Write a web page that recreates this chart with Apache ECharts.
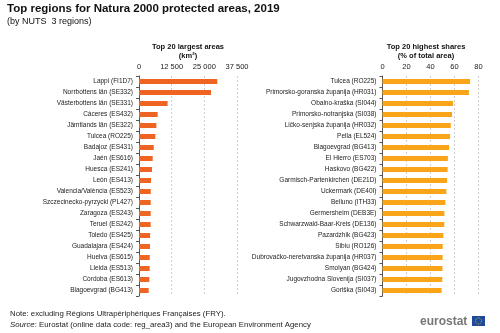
<!DOCTYPE html>
<html>
<head>
<meta charset="utf-8">
<script src="https://cdn.jsdelivr.net/npm/echarts@6/dist/echarts.min.js"></script>
<style>
  html, body { margin: 0; padding: 0; background: #fff; }
  #chart { width: 500px; height: 333px; }
</style>
</head>
<body>
<div id="chart"></div>
<script>
// Top 20 NUTS 3 regions by Natura 2000 area (km²)
const areaRegions = [
  'Lappi (FI1D7)', 'Norrbottens län (SE332)', 'Västerbottens län (SE331)', 'Cáceres (ES432)',
  'Jämtlands län (SE322)', 'Tulcea (RO225)', 'Badajoz (ES431)', 'Jaén (ES616)',
  'Huesca (ES241)', 'León (ES413)', 'Valencia/València (ES523)', 'Szczecinecko-pyrzycki (PL427)',
  'Zaragoza (ES243)', 'Teruel (ES242)', 'Toledo (ES425)', 'Guadalajara (ES424)',
  'Huelva (ES615)', 'Lleida (ES513)', 'Córdoba (ES613)', 'Blagoevgrad (BG413)'
];
const areaValues = [
  29950, 27550, 10950, 7150, 6650, 6250, 5650, 5250,
  4980, 4600, 4500, 4480, 4470, 4460, 4250, 4220,
  4100, 4080, 3950, 3700
];
const areaTicks = ['0', '12 500', '25 000', '37 500'];

// Top 20 NUTS 3 regions by Natura 2000 share of total area (%)
const shareRegions = [
  'Tulcea (RO225)', 'Primorsko-goranska županija (HR031)', 'Obalno-kraška (SI044)', 'Primorsko-notranjska (SI038)',
  'Ličko-senjska županija (HR032)', 'Pella (EL524)', 'Blagoevgrad (BG413)', 'El Hierro (ES703)',
  'Haskovo (BG422)', 'Garmisch-Partenkirchen (DE21D)', 'Uckermark (DE40I)', 'Belluno (ITH33)',
  'Germersheim (DEB3E)', 'Schwarzwald-Baar-Kreis (DE136)', 'Pazardzhik (BG423)', 'Sibiu (RO126)',
  'Dubrovačko-neretvanska županija (HR037)', 'Smolyan (BG424)', 'Jugovzhodna Slovenija (SI037)', 'Goriška (SI043)'
];
const shareValues = [
  73.0, 72.0, 58.8, 58.0, 56.9, 56.3, 55.5, 54.5,
  54.3, 53.8, 53.2, 52.4, 51.6, 51.5, 50.7, 50.2,
  50.1, 50.0, 49.8, 49.3
];
const shareTicks = ['0', '20', '40', '60', '80'];

const FONT = '"Liberation Sans", Arial, sans-serif';
const TEXT = '#222';

const chart = echarts.init(document.getElementById('chart'), null, { renderer: 'canvas' });

function valueAxis(gridIndex, max, interval, ticks) {
  return {
    type: 'value', gridIndex, position: 'top', min: 0, max, interval,
    axisLine: { show: false }, axisTick: { show: false },
    axisLabel: {
      fontFamily: FONT, fontSize: 7.5, color: TEXT, margin: 5,
      formatter: (v) => ticks[Math.round(v / interval)]
    },
    splitLine: { show: true, lineStyle: { color: '#cfcfcf', type: [2, 2], width: 1 } }
  };
}

function categoryAxis(gridIndex, data) {
  return {
    type: 'category', gridIndex, data, inverse: true,
    axisLine: { show: true, lineStyle: { color: '#555', width: 1 } },
    axisTick: { show: true, length: 3, lineStyle: { color: '#555' } },
    axisLabel: { fontFamily: FONT, fontSize: 6.5, color: TEXT, margin: 6 }
  };
}

const option = {
  animation: false,
  backgroundColor: '#fff',
  grid: [
    { left: 139, width: 98, top: 76, height: 220 },
    { left: 382.5, width: 96, top: 76, height: 220 }
  ],
  xAxis: [
    valueAxis(0, 37500, 12500, areaTicks),
    valueAxis(1, 80, 20, shareTicks)
  ],
  yAxis: [
    categoryAxis(0, areaRegions),
    categoryAxis(1, shareRegions)
  ],
  series: [
    {
      type: 'bar', xAxisIndex: 0, yAxisIndex: 0, data: areaValues,
      barWidth: 5, itemStyle: { color: '#F06423' }
    },
    {
      type: 'bar', xAxisIndex: 1, yAxisIndex: 1, data: shareValues,
      barWidth: 5, itemStyle: { color: '#FAA519' }
    }
  ],
  graphic: [
    { type: 'text', left: 7, top: 3, style: { text: 'Top regions for Natura 2000 protected areas, 2019', font: 'bold 11.5px ' + FONT, fill: '#111' } },
    { type: 'text', left: 7, top: 17, style: { text: '(by NUTS  3 regions)', font: '9px ' + FONT, fill: '#111' } },
    { type: 'text', x: 188, y: 43, style: { text: 'Top 20 largest areas', font: 'bold 7.5px ' + FONT, fill: '#111', align: 'center' } },
    { type: 'text', x: 188, y: 52, style: { text: '(km²)', font: 'bold 7.5px ' + FONT, fill: '#111', align: 'center' } },
    { type: 'text', x: 426, y: 43, style: { text: 'Top 20 highest shares', font: 'bold 7.5px ' + FONT, fill: '#111', align: 'center' } },
    { type: 'text', x: 426, y: 52, style: { text: '(% of total area)', font: 'bold 7.5px ' + FONT, fill: '#111', align: 'center' } },
    { type: 'text', x: 10, y: 310, style: { text: 'Note: excluding Régions Ultrapériphériques Françaises (FRY).', font: '7.8px ' + FONT, fill: '#222' } },
    {
      type: 'text', x: 10, y: 321,
      style: {
        text: '{i|Source}: Eurostat (online data code: reg_area3) and the European Environment Agency',
        font: '7.8px ' + FONT, fill: '#222',
        rich: { i: { fontStyle: 'italic', fontSize: 7.8, fontFamily: FONT, fill: '#222' } }
      }
    },
    { type: 'text', x: 420, y: 316, style: { text: 'eurostat', font: 'bold 12px ' + FONT, fill: '#777' } },
    { type: 'rect', shape: { x: 472, y: 316, width: 13, height: 10 }, style: { fill: '#1f4a9c' } },
    { type: 'circle', shape: { cx: 478.5, cy: 321, r: 3 }, style: { fill: 'none', stroke: '#f3d21b', lineWidth: 0.8, lineDash: [1, 1] } }
  ]
};

chart.setOption(option);
</script>
</body>
</html>
